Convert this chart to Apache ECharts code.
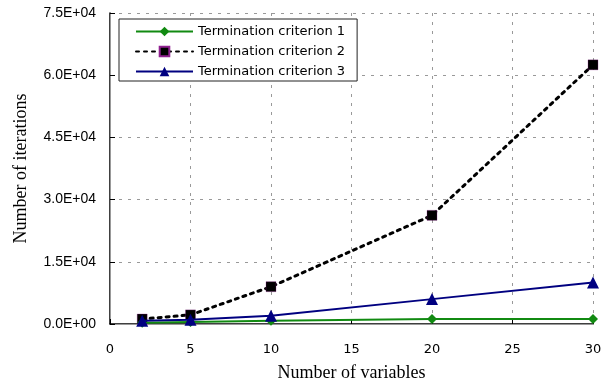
<!DOCTYPE html>
<html>
<head>
<meta charset="utf-8">
<script src="https://cdn.jsdelivr.net/npm/echarts@6/dist/echarts.min.js"></script>
<style>
  html, body { margin: 0; padding: 0; background: #fff; }
  #chart { width: 612px; height: 387px; }
</style>
</head>
<body>
<div id="chart"></div>
<script>
// Number of iterations needed vs. number of variables, for three termination criteria
const variables = [2, 5, 10, 20, 30];
const criterion1 = [300, 500, 800, 1200, 1200];
const criterion2 = [1200, 2200, 9000, 26200, 62500];
const criterion3 = [800, 1000, 2000, 6000, 10000];
const seriesNames = ['Termination criterion 1', 'Termination criterion 2', 'Termination criterion 3'];

function sci(v) {
  // e.g. 45000 -> 4.5E+04
  if (v === 0) return '0.0E+00';
  const e = Math.floor(Math.log10(Math.abs(v)));
  const m = v / Math.pow(10, e);
  const sign = e < 0 ? '-' : '+';
  const ae = Math.abs(e);
  return m.toFixed(1) + 'E' + sign + (ae < 10 ? '0' + ae : ae);
}

const pairs = arr => variables.map((x, i) => [x, arr[i]]);
const titleFont = { fontFamily: 'Liberation Serif', fontSize: 18, color: '#000' };

const chart = echarts.init(document.getElementById('chart'), null, { renderer: 'canvas' });
chart.setOption({
  animation: false,
  backgroundColor: '#fff',
  grid: { left: 110, right: 19, top: 13, bottom: 61 },
  legend: {
    orient: 'vertical',
    left: 119,
    top: 19,
    padding: [6, 12, 3, 16],
    itemGap: 7,
    itemWidth: 57,
    itemHeight: 12,
    borderColor: '#222',
    borderWidth: 1,
    backgroundColor: '#fff',
    textStyle: { fontFamily: 'DejaVu Sans', fontSize: 13, color: '#000' },
    data: seriesNames
  },
  xAxis: [{
    type: 'value',
    min: 0, max: 30, interval: 5,
    name: 'Number of variables',
    nameLocation: 'middle',
    nameGap: 40,
    nameTextStyle: titleFont,
    axisLine: { show: true, lineStyle: { color: '#000', width: 1.5 } },
    axisTick: { show: true, inside: true, length: 5, lineStyle: { color: '#000' } },
    axisLabel: { margin: 19, fontFamily: 'DejaVu Sans', fontSize: 13, color: '#000' },
    splitLine: { show: true, lineStyle: { color: '#999', type: [3, 6], width: 1 } }
  }, {
    type: 'value',
    position: 'top',
    min: 0, max: 30,
    axisLine: { show: true, lineStyle: { color: '#999', width: 1 } },
    axisTick: { show: false },
    axisLabel: { show: false },
    splitLine: { show: false }
  }],
  yAxis: [{
    type: 'value',
    min: 0, max: 75000, interval: 15000,
    name: 'Number of iterations',
    nameLocation: 'middle',
    nameGap: 80,
    nameTextStyle: titleFont,
    axisLine: { show: true, lineStyle: { color: '#000', width: 1.5 } },
    axisTick: { show: true, inside: true, length: 5, lineStyle: { color: '#000' } },
    axisLabel: { margin: 14, formatter: sci, fontFamily: 'Liberation Sans', fontSize: 14, color: '#000' },
    splitLine: { show: true, lineStyle: { color: '#999', type: [3, 6], width: 1 } }
  }, {
    type: 'value',
    position: 'right',
    min: 0, max: 75000,
    axisLine: { show: true, lineStyle: { color: '#999', width: 1 } },
    axisTick: { show: false },
    axisLabel: { show: false },
    splitLine: { show: false }
  }],
  series: [{
    name: seriesNames[0],
    type: 'line',
    data: pairs(criterion1),
    symbol: 'diamond',
    symbolSize: 10,
    color: '#118a11',
    lineStyle: { color: '#118a11', width: 2 },
    itemStyle: { color: '#118a11' },
    z: 3
  }, {
    name: seriesNames[1],
    type: 'line',
    data: pairs(criterion2),
    symbol: 'rect',
    symbolSize: 10,
    color: '#000',
    lineStyle: { color: '#000', width: 3, type: [3, 5], cap: 'round' },
    itemStyle: { color: '#000', borderColor: '#902090', borderWidth: 0.3 },
    z: 2
  }, {
    name: seriesNames[2],
    type: 'line',
    data: pairs(criterion3),
    symbol: 'triangle',
    symbolSize: 12,
    color: '#000080',
    lineStyle: { color: '#000080', width: 2 },
    itemStyle: { color: '#000080' },
    z: 4
  }]
});
</script>
</body>
</html>
